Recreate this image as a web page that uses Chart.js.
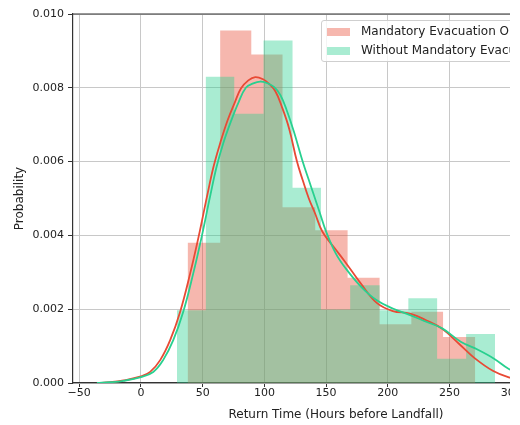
<!DOCTYPE html>
<html>
<head>
<meta charset="utf-8">
<script src="https://cdn.jsdelivr.net/npm/chart.js@4.4.1/dist/chart.umd.min.js"></script>
<style>
  body { margin: 0; background: #fff; }
  #wrap { position: relative; width: 510px; height: 425px; overflow: hidden; }
  #legend {
    position: absolute; left: 321px; top: 20px; width: 268px; height: 39px;
    border: 1px solid #cfcfcf; border-radius: 3px; background: rgba(255,255,255,0.8);
    font-family: 'DejaVu Sans'; font-size: 12px; color: #222; padding-top: 1px;
  }
  .row { height: 19px; line-height: 19px; white-space: nowrap; }
  .patch { display: inline-block; width: 23px; height: 8px; margin-left: 5px; margin-right: 11px; vertical-align: middle; }
</style>
</head>
<body>
<div id="wrap">
  <canvas id="myChart" width="640" height="425"></canvas>
  <div id="legend"></div>
</div>
<script>
var seriesNames = ['Mandatory Evacuation Order', 'Without Mandatory Evacuation Order']
var lineColors = ['#e84a35', '#28d08f']
var histColors = ['rgba(232,74,53,0.4)', 'rgba(40,208,143,0.4)']

// histogram bins (density)
var mandEdges = [37.8, 64.2, 89.4, 114.7, 141.2, 167.4, 193.3, 219.0, 244.7, 270.8]
var mandHeights = [0.0038, 0.00955, 0.0089, 0.00476, 0.00414, 0.00285, 0.00159, 0.00193, 0.00125]
var withoutEdges = [29.2, 52.6, 75.6, 99.3, 122.8, 145.8, 169.5, 193.3, 216.6, 239.9, 263.4, 286.8]
var withoutHeights = [0.00197, 0.0083, 0.0073, 0.00928, 0.00529, 0.00199, 0.00265, 0.00197, 0.0023, 0.00066, 0.00133]

// kde curves
var mandKdeX = [-35.6, -25, -14, 0, 7.5, 15.6, 23.7, 31.8, 39.9, 46.7, 53.5, 58.8, 64.2, 70, 76, 81, 87, 92.6, 99, 104, 109, 114, 120, 126.4, 131, 136, 141, 147, 157, 165, 178, 191, 204, 218, 231, 244, 258, 270, 285, 298, 312, 328, 344]
var mandKdeY = [0, 0.00002, 0.00007, 0.00018, 0.0003, 0.00062, 0.00116, 0.00193, 0.00297, 0.00396, 0.00505, 0.00586, 0.0065, 0.0071, 0.0076, 0.00798, 0.0082, 0.00829, 0.00823, 0.0081, 0.0079, 0.0075, 0.0069, 0.006, 0.0055, 0.005, 0.0046, 0.0041, 0.00365, 0.0033, 0.0027, 0.00217, 0.00195, 0.00188, 0.0017, 0.00147, 0.00105, 0.00068, 0.00033, 0.00015, 0.00005, 0.00001, 0]
var withoutKdeX = [-35.6, -25, -14, 0, 10, 18, 26.2, 34.3, 42.4, 49.2, 56, 61.3, 66.7, 73, 79, 85, 91, 96.6, 102, 108, 113, 118, 124, 131, 136, 140, 145, 150, 158, 166, 178, 191, 204, 218, 231, 244, 259, 273, 286, 298, 312, 328, 340, 351]
var withoutKdeY = [0, 0.00002, 0.00006, 0.00016, 0.0003, 0.00062, 0.00116, 0.00193, 0.00297, 0.00396, 0.00505, 0.00586, 0.0065, 0.0071, 0.0076, 0.008, 0.00812, 0.00817, 0.00813, 0.00802, 0.0078, 0.0074, 0.0068, 0.006, 0.0055, 0.0051, 0.0046, 0.0041, 0.0035, 0.0031, 0.00262, 0.00224, 0.00202, 0.00184, 0.00166, 0.00148, 0.00112, 0.0009, 0.00066, 0.00038, 0.00017, 0.00005, 0.00001, 0]

var xTicks = [-50, 0, 50, 100, 150, 200, 250, 300, 350]
var yTicks = [0, 0.002, 0.004, 0.006, 0.008, 0.010]

function stepPoints(edges, heights) {
  var pts = [{x: edges[0], y: 0}]
  for (var i = 0; i < heights.length; i++) pts.push({x: edges[i], y: heights[i]})
  pts.push({x: edges[edges.length - 1], y: heights[heights.length - 1]})
  pts.push({x: edges[edges.length - 1], y: 0})
  return pts
}
function zipPoints(xs, ys) {
  return xs.map(function (v, i) { return {x: v, y: ys[i]} })
}

Chart.defaults.font.family = 'DejaVu Sans'
Chart.defaults.font.size = 11
Chart.defaults.color = '#222'

var topSpine = {
  id: 'topSpine',
  afterDatasetsDraw: function (chart) {
    var a = chart.chartArea, c = chart.ctx
    c.save()
    c.strokeStyle = '#333'
    c.lineWidth = 1.2
    c.beginPath()
    c.moveTo(a.left, a.top)
    c.lineTo(a.right, a.top)
    c.stroke()
    c.restore()
  }
}

const ctx = document.getElementById('myChart')
var chart = new Chart(ctx, {
  type: 'line',
  data: {
    datasets: [
      {
        label: seriesNames[0] + ' hist',
        data: stepPoints(mandEdges, mandHeights),
        stepped: 'before',
        fill: 'origin',
        backgroundColor: histColors[0],
        borderWidth: 0,
        pointRadius: 0,
        order: 3
      },
      {
        label: seriesNames[1] + ' hist',
        data: stepPoints(withoutEdges, withoutHeights),
        stepped: 'before',
        fill: 'origin',
        backgroundColor: histColors[1],
        borderWidth: 0,
        pointRadius: 0,
        order: 2
      },
      {
        label: seriesNames[0],
        data: zipPoints(mandKdeX, mandKdeY),
        borderColor: lineColors[0],
        borderWidth: 1.8,
        pointRadius: 0,
        tension: 0.4,
        fill: false,
        order: 1
      },
      {
        label: seriesNames[1],
        data: zipPoints(withoutKdeX, withoutKdeY),
        borderColor: lineColors[1],
        borderWidth: 1.8,
        pointRadius: 0,
        tension: 0.4,
        fill: false,
        order: 0
      }
    ]
  },
  options: {
    responsive: false,
    animation: false,
    devicePixelRatio: 1,
    layout: { padding: { top: 14, right: 41, left: 0, bottom: 0 } },
    plugins: { legend: { display: false }, tooltip: { enabled: false } },
    scales: {
      x: {
        type: 'linear',
        min: -55,
        max: 371,
        afterBuildTicks: function (s) { s.ticks = xTicks.map(function (v) { return {value: v} }) },
        afterFit: function (s) { s.height = 42 },
        ticks: { padding: 0, callback: function (v) { return v < 0 ? '\u2212' + Math.abs(v) : v } },
        grid: { color: '#c8c8c8', lineWidth: 1, tickLength: 4, tickColor: '#333' },
        border: { display: true, color: '#333', width: 1.2 },
        title: { display: true, text: 'Return Time (Hours before Landfall)', font: { size: 12 }, padding: { top: 0, bottom: 3 } }
      },
      y: {
        min: 0,
        max: 0.010,
        afterBuildTicks: function (s) { s.ticks = yTicks.map(function (v) { return {value: v} }) },
        afterFit: function (s) { s.width = 73 },
        ticks: { padding: 4, callback: function (v) { return v.toFixed(3) } },
        grid: { color: '#c8c8c8', lineWidth: 1, tickLength: 5, tickColor: '#333' },
        border: { display: true, color: '#333', width: 1.2 },
        title: { display: true, text: 'Probability', font: { size: 12 }, padding: { top: 13, bottom: 0 } }
      }
    }
  },
  plugins: [topSpine]
})

var leg = document.getElementById('legend')
seriesNames.forEach(function (name, i) {
  var row = document.createElement('div')
  row.className = 'row'
  var p = document.createElement('span')
  p.className = 'patch'
  p.style.background = histColors[i]
  row.appendChild(p)
  row.appendChild(document.createTextNode(name))
  leg.appendChild(row)
})
</script>
</body>
</html>
